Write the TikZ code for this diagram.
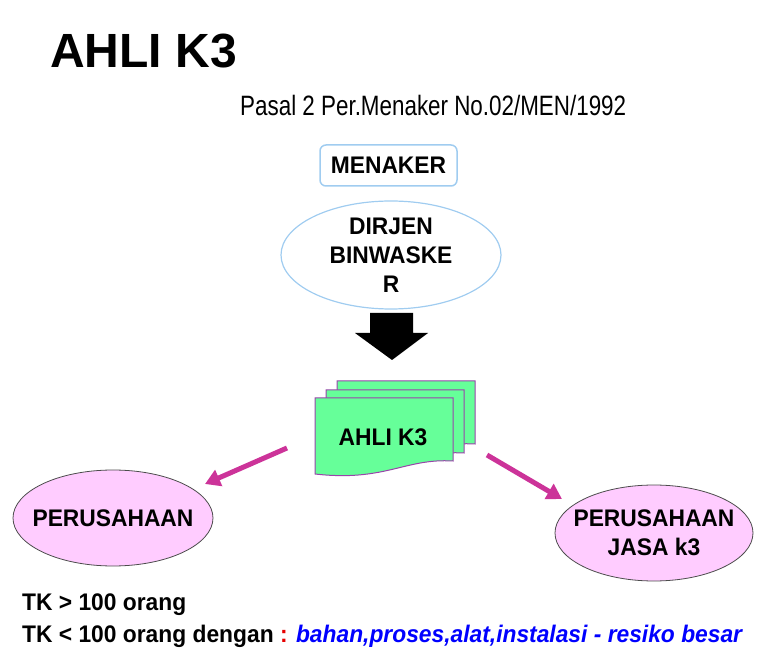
\documentclass[tikz,border=0pt]{standalone}
\usepackage{fontspec}
\setmainfont{Liberation Sans}[FakeStretch=0.95]
\newfontfamily\titlefont{Liberation Sans}
\newfontfamily\subfont{Liberation Sans}[FakeStretch=0.80]
\usetikzlibrary{shapes.geometric, arrows.meta, positioning}
\definecolor{edgeblue}{RGB}{160, 204, 240}
\definecolor{docgreen}{RGB}{102, 255, 153}
\definecolor{docpurple}{RGB}{153, 68, 170}
\definecolor{ellpink}{RGB}{255, 204, 255}
\definecolor{arrowpink}{RGB}{204, 51, 153}
\definecolor{textblue}{RGB}{0, 0, 255}
\definecolor{colonred}{RGB}{230, 0, 0}
\tikzset{
    boldtext/.style={font=\fontsize{24}{29}\selectfont\bfseries, align=center},
    bluebox/.style={boldtext, draw=edgeblue, line width=1.5pt, rounded corners=6pt,
        minimum width=137pt, minimum height=41pt},
    blueell/.style={ellipse, draw=edgeblue, line width=1.2pt, inner sep=0pt,
        minimum width=220pt, minimum height=108pt},
    pinkell/.style={ellipse, draw=black!70, fill=ellpink, line width=0.8pt,
        inner sep=0pt, minimum height=96pt},
    pinkarrow/.style={arrowpink, line width=5pt, -{Triangle[length=15pt,width=17pt]}},
    docpage/.style={draw=docpurple, fill=docgreen, line width=1pt},
    linetext/.style={anchor=base west, inner sep=0pt, font=\fontsize{24}{29}\selectfont\bfseries}
}
\begin{document}
\begin{tikzpicture}[x=1pt, y=-1pt]
    \useasboundingbox (0,0) rectangle (780,652);

    % Title
    \node[anchor=base west, inner sep=0pt, font=\titlefont\fontsize{48}{56}\selectfont\bfseries]
        (title) at (50,68) {AHLI K3};
    \node[anchor=base west, inner sep=0pt, font=\subfont\fontsize{28}{32}\selectfont]
        (pasal) at (240,116) {Pasal 2 Per.Menaker No.02/MEN/1992};

    % Menaker and Dirjen
    \node[bluebox] (menaker) at (388.5,165.5) {MENAKER};
    \node[blueell] (dirjen) at (391,255) {};
    \node[boldtext] (dirjentext) at (dirjen) {DIRJEN\\BINWASKE\\R};

    % Block arrow
    \fill[black] (370,313) -- (413,313) -- (413,333) -- (428,333) -- (392,360)
        -- (355,333) -- (370,333) -- cycle;

    % Document stack
    \foreach \dx/\dy in {22/-17, 11/-8, 0/0}
        \draw[docpage, shift={(\dx,\dy)}] (315,398) -- (453,398) -- (453,461)
            .. controls (405,458) and (385,482) .. (315,474) -- cycle;
    \node[boldtext] (ahli) at (383,437) {AHLI K3};

    % Companies
    \node[pinkell, minimum width=200pt] (perusahaan) at (113,518) {};
    \node[boldtext] (perusahaantext) at (perusahaan) {PERUSAHAAN};
    \node[pinkell, minimum width=198pt] (jasa) at (654,533) {};
    \node[boldtext] (jasatext) at (jasa) {PERUSAHAAN\\JASA k3};

    % Arrows
    \coordinate (lstart) at (287,448);
    \coordinate (lend) at (205,484);
    \coordinate (rstart) at (487,455);
    \coordinate (rend) at (562,499);
    \draw[pinkarrow] (lstart) -- (lend);
    \draw[pinkarrow] (rstart) -- (rend);

    % Criteria
    \node[linetext] (tk1) at (22,610) {TK > 100 orang};
    \node[linetext] (tk2) at (22,642) {TK < 100 orang dengan \textcolor{colonred}{:}
        \textcolor{textblue}{\itshape bahan,proses,alat,instalasi - resiko besar}};
\end{tikzpicture}
\end{document}
